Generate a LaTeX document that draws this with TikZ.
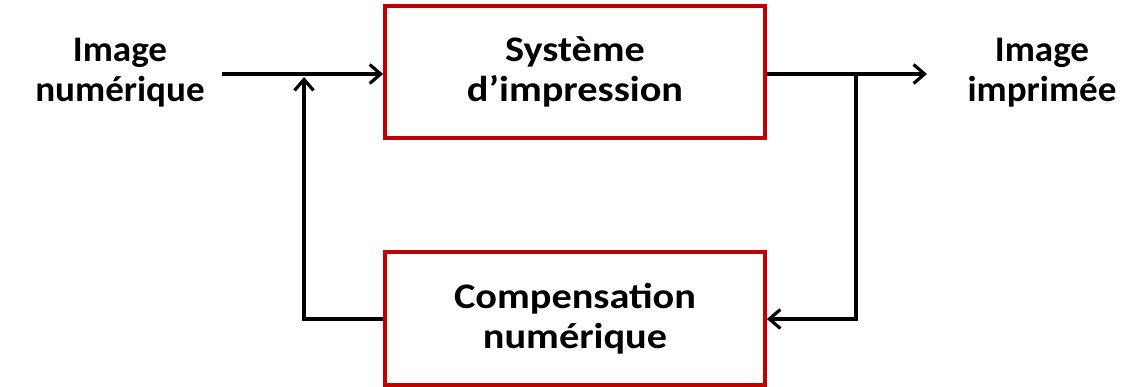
\documentclass[tikz,border=0pt]{standalone}
\usepackage{fontspec}
\setmainfont{Carlito}[FakeStretch=1.12]
\newfontfamily\lblfont{Carlito}[FakeStretch=1.03]
\usetikzlibrary{arrows.meta}
\definecolor{boxred}{RGB}{192,0,0}
\tikzset{
  blockbox/.style={draw=boxred, line width=3.8pt, minimum width=380pt, inner sep=0pt, align=center, font=\fontsize{36}{40}\selectfont\bfseries},
  lbl/.style={align=center, inner sep=0pt, font=\lblfont\fontsize{36}{40}\selectfont\bfseries},
  conn/.style={line width=3.2pt, -{Straight Barb[length=11pt, width=19pt, line width=3.2pt]}},
}
\begin{document}
\begin{tikzpicture}[x=1pt, y=-1pt]
\useasboundingbox (0,0) rectangle (1129,387);
\node[blockbox, minimum height=132pt] (sys) at (575,72) {Système\\d’impression};
\node[blockbox, minimum height=133pt] (comp) at (575,318.5) {Compensation\\numérique};
\node[lbl] (inlbl) at (120,73) {Image\\numérique};
\node[lbl] (outlbl) at (1042,73) {Image\\imprimée};
\coordinate (in) at (222,74);
\coordinate (out) at (927,74);
\coordinate (jr) at (856,74);
\coordinate (br) at (856,319);
\coordinate (bl) at (304,319);
\coordinate (tl) at (304,77);
\draw[conn] (in) -- (in -| sys.west);
\draw[conn] (in -| sys.east) -- (out);
\draw[conn] (jr) -- (br) -- (br -| comp.east);
\draw[conn] (bl -| comp.west) -- (bl) -- (tl);
\end{tikzpicture}
\end{document}
